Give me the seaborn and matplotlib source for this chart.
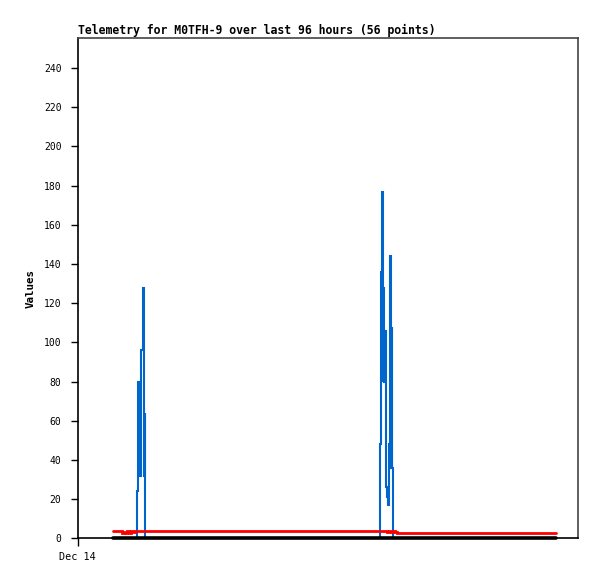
import pandas as pd
import matplotlib
matplotlib.use("Agg")
import matplotlib.pyplot as plt
import seaborn as sns

# hours since Dec 14 00:00
blue_t = [6.82, 11.23, 11.33, 11.48, 11.71, 11.87, 12.00, 12.19, 12.48, 12.67, 12.77, 12.90, 13.02,
          57.98, 58.08, 58.21, 58.41, 58.56, 58.66, 58.85, 59.04, 59.17, 59.29, 59.48, 59.67,
          59.87, 60.06, 60.15, 60.33, 60.48, 60.58, 91.78]
blue_v = [0, 0, 8, 24, 80, 48, 32, 96, 128, 128, 32, 64, 0,
          0, 48, 136, 177, 80, 128, 80, 106, 64, 26, 21, 17,
          48, 144, 36, 108, 36, 0, 0]

red_t = [6.82, 8.35, 8.54, 8.93, 9.12, 9.50, 9.89, 10.27, 10.66, 11.04,
         59.04, 59.42, 59.81, 60.19, 60.58, 60.96, 61.34, 91.78]
red_v = [3.7, 3.7, 2.7, 3.2, 2.7, 3.5, 2.9, 3.6, 3.2, 3.7,
         3.7, 3.2, 3.7, 3.0, 3.6, 3.2, 2.6, 2.6]

black_t = [6.82, 91.78]
black_v = [0, 0]

y_ticks = list(range(0, 241, 20))
x_ticks = [0]
x_labels = ["Dec 14"]

sns.set_theme(style="white")
plt.rcParams['font.family'] = ['DejaVu Sans Mono']
plt.rcParams['text.color'] = 'black'
plt.rcParams['axes.labelcolor'] = 'black'
plt.rcParams['xtick.color'] = 'black'
plt.rcParams['ytick.color'] = 'black'

fig = plt.figure(figsize=(5.97, 5.79), dpi=100)
ax = fig.add_axes([77.5 / 597, 40.7 / 579, 500 / 597, 500 / 579])

df_blue = pd.DataFrame({'t': blue_t, 'v': blue_v})
df_red = pd.DataFrame({'t': red_t, 'v': red_v})
df_black = pd.DataFrame({'t': black_t, 'v': black_v})

sns.lineplot(data=df_blue, x='t', y='v', ax=ax, color='#0066cc', linewidth=1.5, estimator=None,
             drawstyle='steps-post', solid_joinstyle='miter')
sns.lineplot(data=df_red, x='t', y='v', ax=ax, color='#ff0000', linewidth=2.0, estimator=None,
             drawstyle='steps-post', solid_joinstyle='miter')
sns.lineplot(data=df_black, x='t', y='v', ax=ax, color='black', linewidth=2.6, estimator=None,
             clip_on=False)

ax.set_xlim(0, 96)
ax.set_ylim(0, 255.2)
ax.set_yticks(y_ticks)
ax.set_xticks(x_ticks)
ax.set_xticklabels(x_labels)
ax.tick_params(axis='y', direction='out', length=5, width=1, color='black', pad=6.5,
               labelsize=7, labelcolor='black')
ax.tick_params(axis='x', direction='out', length=6, width=1, color='black', pad=4,
               labelsize=7.3, labelcolor='black')
ax.tick_params(left=True, bottom=True)

ax.set_xlabel('')
ax.set_ylabel('Values', fontsize=7.8, fontweight='bold', labelpad=6, color='black')
ax.set_title('Telemetry for M0TFH-9 over last 96 hours (56 points)', loc='left',
             fontsize=8.3, fontweight='bold', pad=3, color='black')

for side in ['left', 'bottom']:
    ax.spines[side].set_color('black')
    ax.spines[side].set_linewidth(1.2)
for side in ['top', 'right']:
    ax.spines[side].set_color('#444444')
    ax.spines[side].set_linewidth(1.2)

fig.savefig('out.png', dpi=100)
